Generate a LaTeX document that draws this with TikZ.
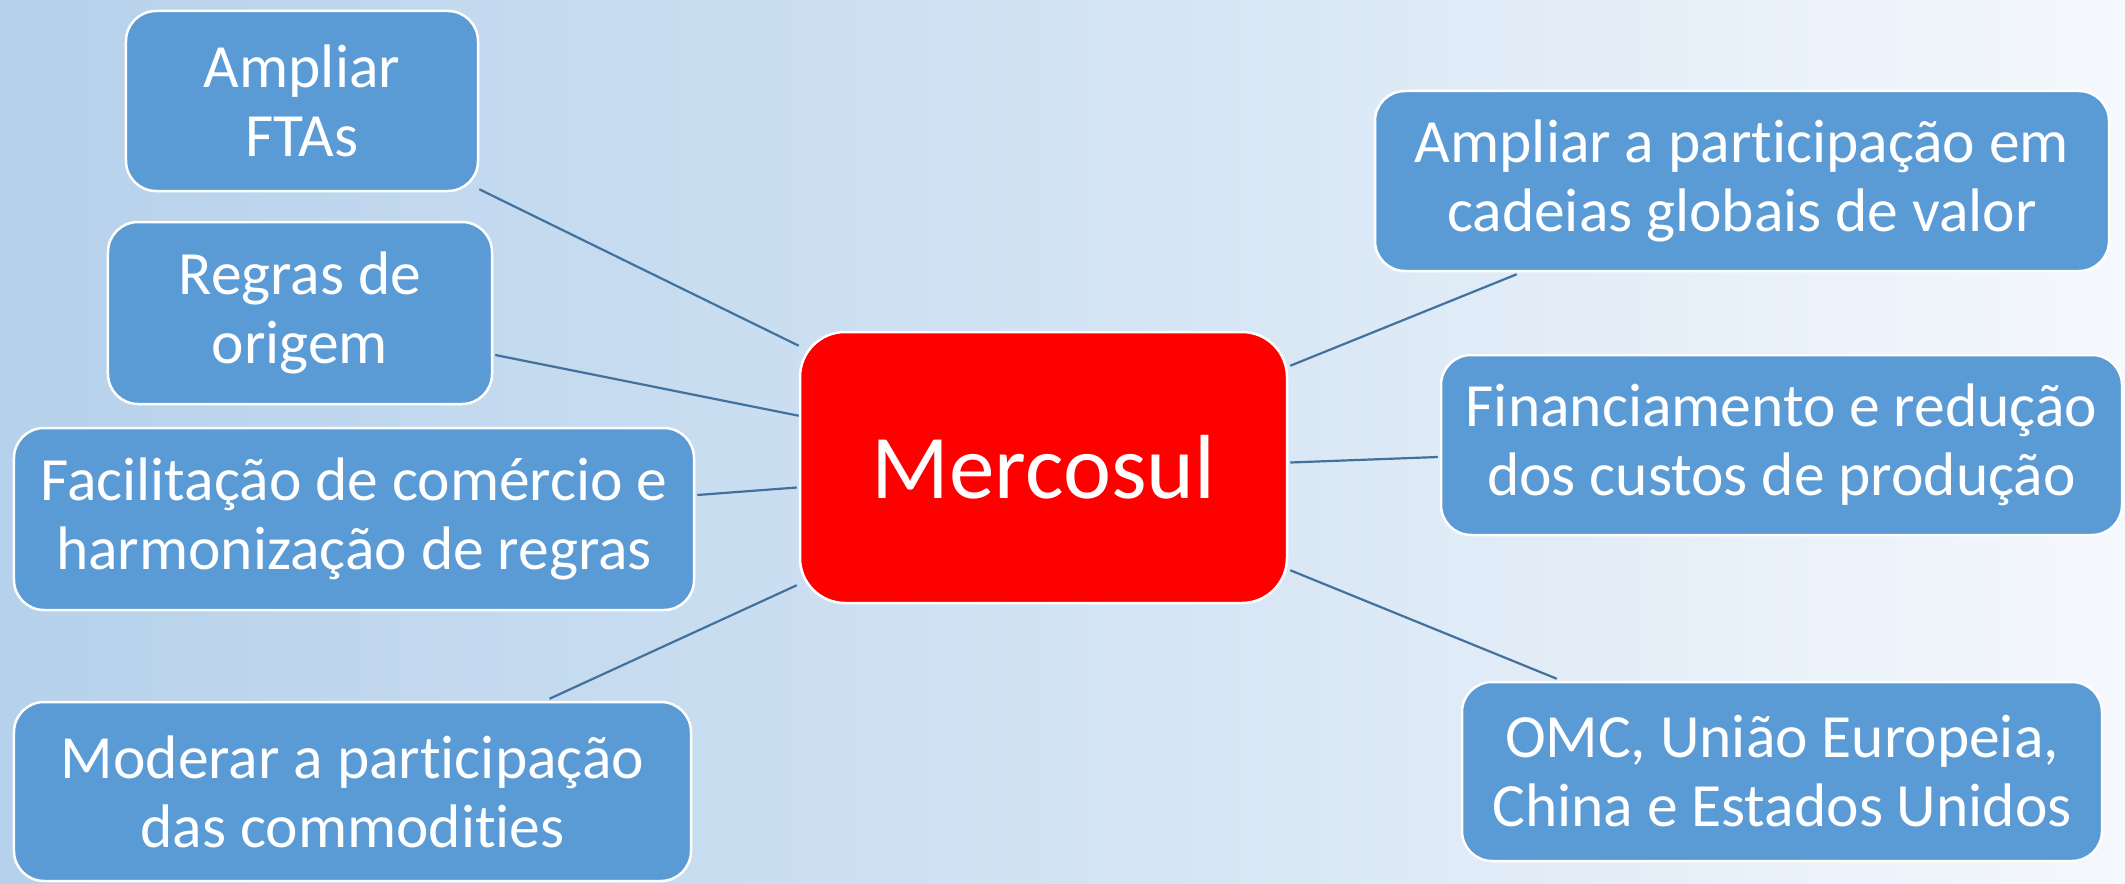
\documentclass[tikz,border=0pt]{standalone}
\usepackage{fontspec}
\setmainfont{Carlito}[Ligatures=NoCommon]
\usetikzlibrary{calc}
\definecolor{bgleft}{HTML}{B6D1EB}
\definecolor{bgmid}{HTML}{D2E3F3}
\definecolor{bgright}{HTML}{F5F8FC}
\definecolor{boxblue}{HTML}{5B9BD5}
\definecolor{linkblue}{HTML}{41719C}
\tikzset{
  topic/.style={draw=white, line width=2.5bp, fill=boxblue, rounded corners=30bp,
    text=white, align=center, inner sep=0pt,
    font=\fontsize{61.5bp}{69bp}\selectfont},
  hub/.style={draw=white, line width=2.5bp, fill=red, rounded corners=45bp,
    text=white, align=center, inner sep=0pt,
    font=\fontsize{91bp}{100bp}\selectfont},
  link/.style={draw=linkblue, line width=2.2bp}
}
\begin{document}
\begin{tikzpicture}[x=1bp,y=1bp]
\useasboundingbox (0,0) rectangle (2125,-884);
\shade[left color=bgleft, right color=bgright, middle color=bgmid] (0,0) rectangle (2125,-884);
\node[hub, minimum width=487bp, minimum height=271bp] (m) at (1043.5,-467.5) {Mercosul};
\node[topic, minimum width=352bp, minimum height=180bp] (fta) at (302,-101) {Ampliar\\FTAs};
\node[topic, minimum width=384bp, minimum height=182bp] (reg) at (300,-313) {Regras de\\origem};
\node[topic, minimum width=680bp, minimum height=182bp] (fac) at (354,-519) {Facilitação de comércio e\\harmonização de regras};
\node[topic, minimum width=677bp, minimum height=179bp] (mod) at (352.5,-791.5) {Moderar a participação\\das commodities};
\node[topic, minimum width=734bp, minimum height=180bp] (amp) at (1742,-181) {Ampliar a participação em\\cadeias globais de valor};
\node[topic, minimum width=681bp, minimum height=180bp] (fin) at (1781.5,-445) {Financiamento e redução\\dos custos de produção};
\node[topic, minimum width=640bp, minimum height=179bp] (omc) at (1782,-771.5) {OMC, União Europeia,\\China e Estados Unidos};
\draw[link] ($(fta.south east)+(0,3)$) -- ($(m.north west)+(0,-15)$);
\draw[link] ($(reg.east)+(2,-42)$) -- ($(m.north west)+(0,-85)$);
\draw[link] ($(fac.east)+(2,24)$) -- ($(m.west)+(-2,-20)$);
\draw[link] ($(mod.north)+(197,2)$) -- ($(m.south west)+(-2,19)$);
\draw[link] ($(m.north east)+(2,-35)$) -- ($(amp.south west)+(143,-2)$);
\draw[link] ($(m.east)+(2,5)$) -- ($(fin.west)+(-2,-12)$);
\draw[link] ($(m.south east)+(2,34)$) -- ($(omc.north west)+(96,2)$);
\end{tikzpicture}
\end{document}
